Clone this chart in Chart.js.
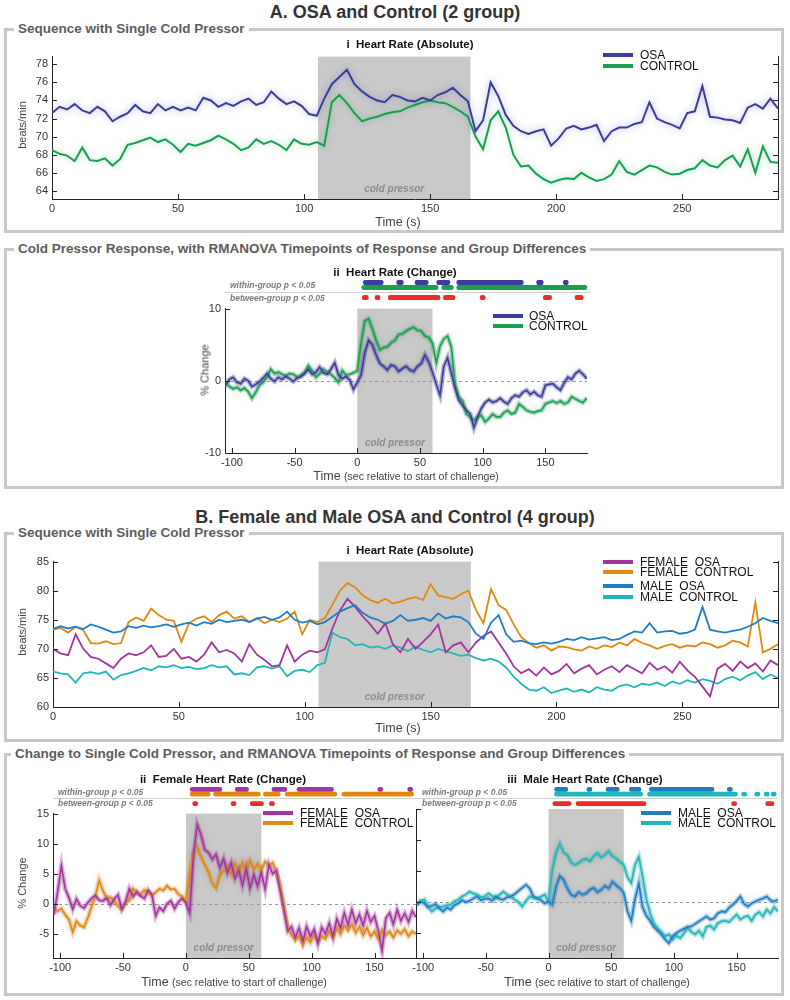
<!DOCTYPE html>
<html lang="en">
<head>
<meta charset="utf-8">
<title>Heart rate response to a single cold pressor</title>
<script src="https://cdn.jsdelivr.net/npm/chart.js@4.4.1/dist/chart.umd.min.js"></script>
<style>
  html, body { margin: 0; background: #fff; }
  #page { position: relative; width: 790px; height: 1000px; overflow: hidden; font-family: "Liberation Sans", Arial, sans-serif; color: #222; }
  #page canvas { position: absolute; }
  .box { position: absolute; left: 4px; width: 780px; border: 3px solid #c8c8c8; box-sizing: border-box; }
  .box-title { position: absolute; top: -10px; left: 7px; padding: 0 4px; background: #fff; font-size: 13.5px; font-weight: bold; color: #5c5c5c; line-height: 16px; white-space: nowrap; }
  .t { position: absolute; white-space: nowrap; line-height: 1; }
  .mid { transform: translate(-50%, -50%); }
  .lft { transform: translateY(-50%); }
  .rot { transform: translate(-50%, -50%) rotate(-90deg); }
  .section { font-size: 18px; font-weight: bold; color: #333; }
  .panel { font-size: 11.5px; font-weight: bold; color: #111; }
  .legend { font-size: 12px; color: #111; }
  .axis-title { font-size: 11px; color: #444; }
  .x-title { font-size: 12.5px; color: #444; }
  .x-title small { font-size: 10.5px; }
  .sig { font-size: 8.5px; font-weight: bold; font-style: italic; color: #7a7a7a; }
  .key { position: absolute; width: 30px; height: 4px; }
  .rule { position: absolute; height: 1px; background: #cfcfcf; }
</style>
</head>
<body>
<div id="page">
  <div class="t mid section" style="left:395px; top:12px">A. OSA and Control (2 group)</div>
  <div class="box" style="top:28px; height:205px"><span class="box-title">Sequence with Single Cold Pressor</span></div>
  <div class="box" style="top:248px; height:241px"><span class="box-title">Cold Pressor Response, with RMANOVA Timepoints of Response and Group Differences</span></div>

  <div class="t mid section" style="left:395px; top:517px">B. Female and Male OSA and Control (4 group)</div>
  <div class="box" style="top:532px; height:210px"><span class="box-title">Sequence with Single Cold Pressor</span></div>
  <div class="box" style="top:753px; height:243px"><span class="box-title" style="left:4px">Change to Single Cold Pressor, and RMANOVA Timepoints of Response and Group Differences</span></div>

  <canvas id="a1-chart"></canvas>
  <canvas id="a2-chart"></canvas>
  <canvas id="a2-sig"></canvas>
  <canvas id="b1-chart"></canvas>
  <canvas id="b2-chart"></canvas>
  <canvas id="b3-chart"></canvas>
  <canvas id="b2-sig"></canvas>
  <canvas id="b3-sig"></canvas>

  <!-- A i -->
  <div class="t mid panel" style="left:410px; top:45px">i&nbsp;&nbsp;Heart Rate (Absolute)</div>
  <div class="key" style="left:603px; top:53px; background:#3b3c9c"></div>
  <div class="t lft legend" style="left:640px; top:55px">OSA</div>
  <div class="key" style="left:603px; top:64px; background:#18a04f"></div>
  <div class="t lft legend" style="left:640px; top:66px">CONTROL</div>
  <div class="t rot axis-title" style="left:22px; top:125px">beats/min</div>
  <div class="t mid x-title" style="left:398px; top:222px">Time (s)</div>

  <!-- A ii -->
  <div class="t mid panel" style="left:395px; top:273px">ii&nbsp;&nbsp;Heart Rate (Change)</div>
  <div class="t lft sig" style="left:230px; top:285px">within-group p &lt; 0.05</div>
  <div class="rule" style="left:225px; top:292px; width:365px"></div>
  <div class="t lft sig" style="left:230px; top:298px">between-group p &lt; 0.05</div>
  <div class="key" style="left:493px; top:314px; background:#3b3c9c"></div>
  <div class="t lft legend" style="left:529px; top:316px">OSA</div>
  <div class="key" style="left:493px; top:324px; background:#18a04f"></div>
  <div class="t lft legend" style="left:529px; top:326px">CONTROL</div>
  <div class="t rot axis-title" style="left:205px; top:370px">% Change</div>
  <div class="t mid x-title" style="left:406px; top:476px">Time <small>(sec relative to start of challenge)</small></div>

  <!-- B i -->
  <div class="t mid panel" style="left:410px; top:551px">i&nbsp;&nbsp;Heart Rate (Absolute)</div>
  <div class="key" style="left:603px; top:560px; background:#a5359e"></div>
  <div class="t lft legend" style="left:640px; top:562px">FEMALE&nbsp;&nbsp;OSA</div>
  <div class="key" style="left:603px; top:570px; background:#e0880f"></div>
  <div class="t lft legend" style="left:640px; top:572px">FEMALE&nbsp;&nbsp;CONTROL</div>
  <div class="key" style="left:603px; top:584px; background:#1e7dc5"></div>
  <div class="t lft legend" style="left:640px; top:586px">MALE&nbsp;&nbsp;OSA</div>
  <div class="key" style="left:603px; top:595px; background:#1fb7b7"></div>
  <div class="t lft legend" style="left:640px; top:597px">MALE&nbsp;&nbsp;CONTROL</div>
  <div class="t rot axis-title" style="left:22px; top:632px">beats/min</div>
  <div class="t mid x-title" style="left:398px; top:728px">Time (s)</div>

  <!-- B ii / iii -->
  <div class="t mid panel" style="left:223px; top:780px">ii&nbsp;&nbsp;Female Heart Rate (Change)</div>
  <div class="t mid panel" style="left:585px; top:780px">iii&nbsp;&nbsp;Male Heart Rate (Change)</div>
  <div class="t lft sig" style="left:58px; top:792px">within-group p &lt; 0.05</div>
  <div class="t lft sig" style="left:58px; top:803px">between-group p &lt; 0.05</div>
  <div class="t lft sig" style="left:422px; top:792px">within-group p &lt; 0.05</div>
  <div class="t lft sig" style="left:422px; top:803px">between-group p &lt; 0.05</div>
  <div class="rule" style="left:53px; top:798px; width:725px"></div>
  <div class="key" style="left:263px; top:811px; background:#a5359e"></div>
  <div class="t lft legend" style="left:300px; top:813px">FEMALE&nbsp;&nbsp;OSA</div>
  <div class="key" style="left:263px; top:821px; background:#e0880f"></div>
  <div class="t lft legend" style="left:300px; top:823px">FEMALE&nbsp;&nbsp;CONTROL</div>
  <div class="key" style="left:641px; top:811px; background:#1e7dc5"></div>
  <div class="t lft legend" style="left:678px; top:813px">MALE&nbsp;&nbsp;OSA</div>
  <div class="key" style="left:641px; top:821px; background:#1fb7b7"></div>
  <div class="t lft legend" style="left:678px; top:823px">MALE&nbsp;&nbsp;CONTROL</div>
  <div class="t rot axis-title" style="left:22px; top:883px">% Change</div>
  <div class="t mid x-title" style="left:234px; top:982px">Time <small>(sec relative to start of challenge)</small></div>
  <div class="t mid x-title" style="left:597px; top:982px">Time <small>(sec relative to start of challenge)</small></div>
</div>

<script>
const FONT = '"Liberation Sans", Arial, sans-serif';
const TICK_FONT = { family: FONT, size: 11 };
const AXIS_W = 40;
const AXIS_H = 22;
const PAD = 6;
const SHADE_COLOR = "#c9c9c9";

const OSA_COLOR = "#3b3c9c";
const CONTROL_COLOR = "#18a04f";
const FEMALE_OSA_COLOR = "#a5359e";
const FEMALE_CONTROL_COLOR = "#e0880f";
const MALE_OSA_COLOR = "#1e7dc5";
const MALE_CONTROL_COLOR = "#1fb7b7";
const SIG_COLOR = "#ef2a2a";

// sample times (s)
const TIME_ABS = [
  0, 3, 6, 9, 12, 15, 18, 21, 24, 27,
  30, 33, 36, 39, 42, 45, 48, 51, 54, 57,
  60, 63, 66, 69, 72, 75, 78, 81, 84, 87,
  90, 93, 96, 99, 102, 105, 108, 111, 114, 117,
  120, 123, 126, 129, 132, 135, 138, 141, 144, 147,
  150, 153, 156, 159, 162, 165, 168, 171, 174, 177,
  180, 183, 186, 189, 192, 195, 198, 201, 204, 207,
  210, 213, 216, 219, 222, 225, 228, 231, 234, 237,
  240, 243, 246, 249, 252, 255, 258, 261, 264, 267,
  270, 273, 276, 279, 282, 285, 288,
];
const TIME_CHG = [
  -105, -102, -99, -96, -93, -90, -87, -84, -81, -78,
  -75, -72, -69, -66, -63, -60, -57, -54, -51, -48,
  -45, -42, -39, -36, -33, -30, -27, -24, -21, -18,
  -15, -12, -9, -6, -3, 0, 3, 6, 9, 12,
  15, 18, 21, 24, 27, 30, 33, 36, 39, 42,
  45, 48, 51, 54, 57, 60, 63, 66, 69, 72,
  75, 78, 81, 84, 87, 90, 93, 96, 99, 102,
  105, 108, 111, 114, 117, 120, 123, 126, 129, 132,
  135, 138, 141, 144, 147, 150, 153, 156, 159, 162,
  165, 168, 171, 174, 177, 180, 183,
];

const ABS_X_TICKS = [0, 50, 100, 150, 200, 250];
const CHG_X_TICKS = [-100, -50, 0, 50, 100, 150];
const A1_Y_TICKS = [64, 66, 68, 70, 72, 74, 76, 78];
const A2_Y_TICKS = [-10, 0, 10];
const B1_Y_TICKS = [60, 65, 70, 75, 80, 85];
const B2_Y_TICKS = [-5, 0, 5, 10, 15];
const ABS_SHADE = [105.5, 166];
const CHG_SHADE = [0, 60];

// A i: heart rate, beats/min
const A1_OSA = [
  72.6, 73.3, 73.0, 73.6, 72.9, 72.6, 73.3, 72.8, 71.7, 72.2,
  72.6, 73.5, 72.8, 72.6, 73.6, 72.9, 73.3, 72.9, 73.2, 72.9,
  74.3, 74.0, 73.3, 73.7, 73.4, 73.9, 74.2, 73.5, 73.8, 75.0,
  74.2, 73.6, 73.9, 73.4, 72.5, 72.3, 74.2, 75.8, 76.6, 77.4,
  75.8, 75.0, 74.4, 74.0, 73.8, 74.6, 74.4, 74.0, 73.9, 74.3,
  74.0, 74.6, 74.9, 75.4, 74.6, 73.9, 70.6, 71.8, 76.0, 74.5,
  72.4, 71.2, 70.6, 70.3, 70.6, 70.8, 69.0, 69.8, 70.9, 71.2,
  70.8, 71.0, 71.3, 69.5, 70.6, 71.0, 71.0, 71.4, 71.6, 73.8,
  72.0, 71.6, 71.3, 70.9, 72.6, 72.8, 75.6, 72.2, 72.1, 71.9,
  71.8, 71.5, 73.2, 73.6, 73.1, 74.2, 73.1,
];
const A1_CONTROL = [
  68.5, 68.1, 67.9, 67.3, 68.8, 67.4, 67.3, 67.6, 66.8, 67.5,
  69.1, 69.3, 69.6, 69.9, 69.4, 69.7, 69.1, 68.3, 69.2, 69.0,
  69.3, 69.6, 70.1, 69.7, 69.2, 68.5, 68.8, 69.7, 69.2, 69.5,
  69.1, 68.5, 69.7, 69.2, 69.1, 69.4, 69.0, 73.8, 74.6, 73.7,
  72.6, 71.7, 72.0, 72.2, 72.5, 72.7, 72.8, 73.2, 73.5, 73.8,
  74.0, 73.8, 73.7, 73.3, 72.8, 72.2, 70.0, 68.6, 71.8, 72.8,
  71.0, 68.0, 66.7, 66.8, 65.9, 65.3, 64.9, 65.2, 65.4, 65.3,
  66.0, 65.5, 65.1, 65.3, 65.8, 67.3, 66.1, 65.8, 66.3, 66.8,
  66.6, 66.1, 65.8, 65.9, 66.3, 66.5, 67.4, 66.8, 66.6, 67.4,
  67.9, 66.7, 68.6, 66.0, 68.9, 67.2, 67.1,
];

// A ii: % change
const A2_OSA = [
  -0.6, 0.2, 0.5, -0.2, -0.4, 0.3, 0.0, -0.8, -0.5, -0.1,
  0.4, 1.0, 0.3, -0.1, 0.5, 0.2, 0.6, 0.3, -0.1, 0.4,
  0.6, 1.0, 1.6, 0.9, 1.2, 1.9, 1.1, 0.9, 1.6, 2.5,
  0.8, 0.3, 0.6, 0.1, -1.2, -0.2, 0.8, 3.9, 5.6, 5.0,
  3.6, 2.4, 2.0, 1.5, 2.2, 2.0, 1.3, 1.7, 2.0, 1.5,
  1.3, 2.0, 2.4, 3.6, 2.6, 1.2, -0.5, -2.0, 2.0, 3.2,
  1.0, -1.0, -2.7, -3.4, -4.1, -4.6, -6.5, -5.0, -3.8, -3.0,
  -2.6, -3.0, -2.8, -2.4, -2.9, -3.2, -2.4, -2.0, -2.2, -1.6,
  -1.3, -1.9, -1.5, -2.0, -2.2, -0.6, -0.5, -0.4, -0.9, -1.3,
  -0.3, 0.5, 0.2, 1.0, 1.4, 0.9, 0.3,
];
const A2_CONTROL = [
  -0.4, -0.8, -1.1, -0.9, -1.3, -1.0, -1.5, -2.4, -1.6, -0.6,
  -0.2, 0.5, 1.6, 1.0, 1.2, 0.9, 0.7, 1.0, 0.9, 0.5,
  0.7, 1.2, 2.1, 1.4, 0.5, 1.0, 1.6, 1.2, 0.9, 0.4,
  -0.2, 1.4, 0.8, 0.9, 1.1, 1.4, 5.2, 8.3, 8.6, 7.2,
  5.6, 4.3, 4.6, 4.7, 5.3, 5.6, 6.4, 6.5, 6.9, 7.2,
  7.4, 7.0, 6.9, 6.2, 6.0, 5.2, 2.5, 4.8, 5.8, 6.2,
  4.7, -0.5, -2.2, -2.8, -4.6, -5.0, -5.5, -5.0, -4.8, -5.7,
  -5.2, -4.6, -5.0, -5.0, -4.4, -4.1, -4.6, -4.4, -3.2, -3.6,
  -4.1, -4.3, -4.4, -4.2, -4.1, -3.2, -3.0, -2.8, -3.1, -2.8,
  -3.2, -3.0, -2.2, -2.5, -2.8, -3.0, -2.4,
];

// A ii: runs of significant timepoints (s)
const A2_SIG_OSA = [[4.8, 20.7], [31.4, 36.7], [46, 56.6], [63.3, 73.9], [79.3, 132.4], [143, 148.3], [164.3, 168.3]];
const A2_SIG_CONTROL = [[3.5, 64.5], [67.3, 76.6], [79.3, 183]];
const A2_SIG_BETWEEN = [[4, 8.8], [14.1, 18.1], [24.7, 66], [68.6, 77.9], [98, 102], [148.3, 155], [173.6, 180.2]];

// B i: heart rate, beats/min
const B1_FEMALE_OSA = [
  70.0, 69.2, 68.9, 72.5, 70.0, 68.6, 68.3, 67.5, 66.7, 68.3,
  69.2, 68.9, 69.4, 70.6, 68.6, 68.8, 70.0, 68.3, 68.6, 67.8,
  69.0, 71.1, 69.4, 69.8, 69.2, 67.8, 70.8, 69.0, 68.1, 67.0,
  67.2, 70.6, 67.8, 69.0, 69.7, 69.4, 69.9, 73.5, 76.6, 78.6,
  77.2, 75.6, 74.2, 72.6, 74.4, 70.8, 69.4, 71.7, 70.0, 71.2,
  72.5, 74.2, 69.4, 70.6, 71.1, 69.4, 71.1, 72.2, 73.0, 71.1,
  69.2, 67.0, 65.8, 66.5, 65.4, 66.8, 65.6, 66.2, 67.4, 65.8,
  66.6, 67.2, 65.6, 66.4, 67.0, 66.0, 67.2, 66.5, 65.8, 67.6,
  66.4, 67.0, 65.9, 67.8, 66.3, 65.2, 63.5, 61.8, 66.6, 67.4,
  66.2, 67.8, 66.7, 67.5, 66.1, 68.0, 67.2,
];
const B1_FEMALE_CONTROL = [
  73.3, 73.6, 72.8, 73.8, 73.2, 71.0, 70.9, 71.3, 70.8, 71.0,
  74.6, 75.4, 74.8, 76.9, 75.8, 75.0, 74.8, 71.2, 74.4, 75.2,
  75.6, 74.6, 75.8, 76.4, 75.2, 75.6, 74.6, 75.3, 74.4, 75.0,
  74.6, 75.2, 76.4, 72.5, 75.0, 74.6, 75.3, 77.6, 80.0, 81.3,
  80.6, 79.2, 78.4, 77.9, 78.6, 77.8, 78.1, 78.6, 78.9, 78.4,
  81.1, 79.2, 78.9, 78.6, 79.4, 80.0, 76.7, 74.4, 80.3, 77.5,
  76.7, 74.2, 72.0, 71.0, 70.2, 70.6, 69.7, 70.4, 70.3, 69.9,
  69.7, 70.4, 70.0, 70.6, 70.3, 71.1, 70.6, 71.7, 71.0, 70.6,
  70.0, 70.5, 70.8, 70.2, 70.6, 70.4, 71.1, 70.8, 70.2, 70.6,
  71.4, 71.1, 70.4, 78.0, 69.4, 70.0, 70.8,
];
const B1_MALE_OSA = [
  73.4, 73.9, 73.5, 73.8, 73.4, 74.2, 73.8, 73.3, 72.8, 73.0,
  73.9, 73.6, 74.0, 73.7, 73.9, 74.2, 73.8, 74.2, 74.5, 74.0,
  74.6, 74.3, 75.0, 74.6, 74.8, 75.0, 74.6, 75.2, 75.5, 75.0,
  75.4, 76.4, 75.0, 74.5, 74.8, 74.2, 74.6, 75.5, 76.4, 77.0,
  77.5, 76.2, 75.4, 75.0, 74.3, 74.8, 75.8, 74.8, 75.0, 75.3,
  74.8, 76.1, 75.2, 75.6, 75.4, 74.6, 72.6, 71.7, 74.5, 75.8,
  72.5, 71.2, 71.4, 71.0, 70.8, 71.1, 70.9, 71.2, 71.7, 71.5,
  72.0, 71.6, 71.8, 72.0, 71.5, 71.7, 72.4, 73.0, 72.8, 74.4,
  72.8, 73.0, 73.1, 72.6, 72.8, 73.3, 77.2, 73.3, 73.0, 72.8,
  73.1, 73.3, 73.8, 74.4, 75.3, 74.8, 74.4,
];
const B1_MALE_CONTROL = [
  66.1, 65.8, 65.6, 64.2, 65.8, 66.0, 65.7, 66.1, 64.7, 65.5,
  65.8, 66.2, 66.7, 66.3, 67.0, 66.8, 67.2, 66.7, 66.9, 66.5,
  66.7, 67.2, 66.8, 67.0, 65.6, 65.8, 65.5, 66.8, 67.0, 66.6,
  67.0, 65.3, 66.2, 66.4, 66.0, 67.2, 67.6, 72.8, 72.0, 71.7,
  70.6, 70.8, 70.2, 70.4, 70.0, 70.6, 70.2, 69.6, 70.4, 69.8,
  69.4, 70.0, 69.6, 69.2, 68.8, 69.0, 68.4, 68.0, 68.3, 67.8,
  66.8, 65.2, 64.0, 63.0, 62.8, 63.4, 62.4, 62.8, 63.2, 62.6,
  63.0, 62.5, 63.4, 63.0, 62.8, 63.6, 63.9, 63.4, 64.0, 63.8,
  64.2, 63.6, 64.4, 64.0, 64.6, 64.2, 64.8, 64.5, 64.0, 64.8,
  65.2, 64.6, 65.4, 66.0, 64.8, 65.6, 65.0,
];

// B ii: female, % change
const B2_FEMALE_OSA = [
  -1.8, 2.0, 6.3, 2.5, 1.0, -0.9, 0.8, -0.3, -0.7, 0.2,
  0.9, 1.4, 0.6, 0.5, 1.0, -0.2, 0.8, 1.5, -0.9, 0.3,
  2.5, 1.2, 2.0, 1.3, 0.9, 2.3, 1.5, -2.0, -0.6, -1.2,
  0.0, 0.5, -0.8, 0.3, 0.9, 0.2, -1.5, 8.0, 13.2, 11.5,
  9.0, 8.5, 7.4, 8.2, 6.0, 7.5, 5.2, 6.8, 4.2, 5.6,
  3.1, 5.8, 2.6, 4.8, 3.0, 5.2, 2.4, 6.5, 5.0, 5.5,
  2.2, -1.0, -4.5, -3.8, -5.6, -4.0, -6.2, -3.8, -5.4, -4.2,
  -6.6, -3.9, -5.0, -3.2, -5.5, -2.5, -4.0, -1.5, -3.5, -1.0,
  -3.2, -1.8, -3.6, -1.2, -3.0, -2.0, -4.5, -7.8, -2.4, -1.5,
  -3.4, -1.0, -2.8, -1.6, -3.0, -1.2, -2.2,
];
const B2_FEMALE_CONTROL = [
  -0.9, -1.2, -0.8, -1.8, -2.6, -4.7, -2.9, -3.6, -3.9, -2.3,
  -0.5, 1.2, 3.9, 2.2, 0.9, 1.1, 0.4, -0.4, -0.9, 0.2,
  0.6, 2.5, 1.8, 1.5, 2.3, 1.8, 1.4, 1.9, 2.5, 2.2,
  3.0, 2.4, 2.5, 1.6, 1.2, 0.4, 5.2, 8.6, 9.5, 7.8,
  6.5, 5.3, 3.4, 2.6, 4.8, 5.6, 6.3, 5.0, 6.6, 5.2,
  6.8, 5.4, 7.2, 5.8, 6.6, 5.6, 7.0, 6.4, 6.8, 5.2,
  3.0, -0.5, -3.8, -5.2, -6.0, -5.4, -6.8, -5.6, -6.4, -5.0,
  -6.2, -5.4, -5.8, -4.6, -5.6, -4.0, -5.0, -3.6, -4.4, -3.4,
  -4.8, -3.8, -5.2, -4.0, -5.4, -4.6, -5.8, -4.4, -5.2, -4.6,
  -5.6, -4.4, -5.0, -4.2, -5.4, -4.6, -5.0,
];

// B iii: male, % change
const B3_MALE_OSA = [
  -0.4, 0.1, -0.2, -0.8, -0.6, -0.3, -1.0, -1.5, -0.9, -1.2,
  -0.5, -0.2, 0.3, 0.0, 0.2, 0.6, 0.9, 0.3, 0.5, 0.6,
  0.2, 0.9, 0.5, 0.4, 0.8, 0.9, 1.3, 1.8, 2.3, 2.8,
  2.2, 0.9, 0.6, 0.3, -0.2, 0.1, -0.4, 2.5, 4.2, 3.6,
  2.2, 1.2, 0.9, 1.6, 1.2, 1.4, 2.0, 2.3, 1.6, 2.0,
  2.6, 2.2, 3.3, 2.7, 2.2, 1.5, -1.5, -3.0, 0.5, 3.0,
  -0.8, -2.2, -3.0, -4.0, -4.6, -5.2, -6.0, -6.6, -5.5, -5.0,
  -4.6, -4.3, -4.0, -3.9, -3.5, -3.1, -2.7, -2.3, -2.8, -2.6,
  -1.8, -1.5, -1.6, -0.9, -0.4, 0.2, 0.9, -0.3, -0.7, -0.2,
  0.1, 0.4, 0.6, 0.9, 0.3, 0.1, 0.4,
];
const B3_MALE_CONTROL = [
  -0.4, 0.2, 0.4, -0.8, -1.5, -1.0, -0.8, -0.7, -0.5, -0.4,
  0.1, 0.4, 0.9, 1.2, 1.7, 1.4, 1.2, 0.8, 0.9, 1.4,
  1.0, 0.6, 1.2, 1.7, 1.2, 0.9, 0.4, 0.0, -0.7, 0.2,
  0.9, 0.7, 0.6, 0.9, 1.2, 0.1, 5.2, 8.0, 9.4, 8.0,
  7.6, 6.4, 6.0, 6.3, 6.8, 7.0, 6.6, 7.4, 7.9, 7.2,
  7.6, 8.2, 7.4, 7.0, 6.5, 6.0, 4.0, 3.1, 6.0, 7.3,
  4.1, 0.5, -1.8, -3.4, -4.2, -4.8, -5.5, -5.2, -6.0, -5.4,
  -5.8, -5.0, -4.2, -4.8, -5.2, -4.6, -5.5, -4.0, -3.8, -4.4,
  -3.4, -3.1, -3.0, -3.2, -2.6, -2.0, -2.8, -2.4, -2.2, -3.0,
  -2.0, -1.6, -2.3, -1.2, -1.8, -0.8, -1.5,
];

const B2_SIG_FEMALE_OSA = [[3.4, 28.6], [39.2, 49.8], [68.4, 80.3], [88.3, 117.4], [152.6, 156.6], [176.4, 180.4]];
const B2_SIG_FEMALE_CONTROL = [[3.4, 19.3], [22, 59.1], [61.7, 75], [79, 120], [124.1, 181]];
const B2_SIG_BETWEEN = [[5.4, 9.4], [35.9, 39.9], [51.2, 61.7], [66.4, 70.4]];
const B3_SIG_MALE_OSA = [[4.8, 15.4], [30.6, 34.6], [45.9, 56.5], [64.4, 73.7], [80.4, 132], [142.6, 146.6]];
const B3_SIG_MALE_CONTROL = [[4.8, 75], [79, 150.6], [154, 158], [164.5, 168.5], [172, 176], [177.5, 181.5]];
const B3_SIG_BETWEEN = [[3.4, 18], [22, 77.7], [146, 150], [173.2, 179.8]];

const SIG_ROWS = ["within-osa", "within-control", "rule", "between"];

function alpha(hex, a) {
  const n = parseInt(hex.slice(1), 16);
  return `rgba(${(n >> 16) & 255}, ${(n >> 8) & 255}, ${n & 255}, ${a})`;
}

function lineDataset(times, values, color, width, order, glow) {
  return {
    data: times.map((t, i) => ({ x: t, y: values[i] })),
    borderColor: color,
    borderWidth: width,
    pointRadius: 0,
    tension: 0,
    fill: false,
    order,
    glow,
  };
}

// thin mean line over a paler, wider trace standing in for the error band
function changeSeries(values, color) {
  return [
    lineDataset(TIME_CHG, values, color, 1.6, 0, null),
    lineDataset(TIME_CHG, values, alpha(color, 0.38), 4.5, 1, "rgba(0, 0, 0, 0.22)"),
  ];
}

const glowPlugin = {
  id: "glow",
  beforeDatasetDraw(chart, args) {
    const dataset = chart.data.datasets[args.index];
    chart.ctx.save();
    if (dataset.glow) {
      chart.ctx.shadowColor = dataset.glow;
      chart.ctx.shadowBlur = 7;
    }
  },
  afterDatasetDraw(chart) {
    chart.ctx.restore();
  },
};

const shadePlugin = {
  id: "shade",
  beforeDraw(chart, args, opts) {
    const { ctx, chartArea: area, scales } = chart;
    const x0 = scales.x.getPixelForValue(opts.from);
    const x1 = scales.x.getPixelForValue(opts.to);
    ctx.save();
    ctx.fillStyle = SHADE_COLOR;
    ctx.fillRect(x0, area.top, x1 - x0, area.bottom - area.top);
    ctx.fillStyle = "#8d8d8d";
    ctx.font = `italic bold 10px ${FONT}`;
    ctx.textAlign = "center";
    ctx.textBaseline = "middle";
    ctx.fillText("cold pressor", (x0 + x1) / 2, area.bottom - 10);
    if (opts.zeroLine) {
      const y0 = Math.round(scales.y.getPixelForValue(0)) + 0.5;
      ctx.strokeStyle = "#9a9a9a";
      ctx.lineWidth = 1;
      ctx.setLineDash([3, 3]);
      ctx.beginPath();
      ctx.moveTo(area.left, y0);
      ctx.lineTo(area.right, y0);
      ctx.stroke();
    }
    ctx.restore();
  },
};

// MATLAB style tick marks pointing into the plot
const inwardTicks = {
  id: "inwardTicks",
  afterDraw(chart) {
    const { ctx, chartArea: area } = chart;
    ctx.save();
    ctx.strokeStyle = "#222";
    ctx.lineWidth = 1;
    ctx.beginPath();
    Object.values(chart.scales).forEach((scale) => {
      scale.ticks.forEach((tick) => {
        const p = Math.round(scale.getPixelForValue(tick.value)) + 0.5;
        if (scale.axis === "x") {
          ctx.moveTo(p, area.bottom);
          ctx.lineTo(p, area.bottom - 5);
        } else if (scale.position === "left") {
          ctx.moveTo(area.left, p);
          ctx.lineTo(area.left + 5, p);
        } else {
          ctx.moveTo(area.right, p);
          ctx.lineTo(area.right - 5, p);
        }
      });
    });
    ctx.stroke();
    ctx.restore();
  },
};

function fixedTicks(values) {
  return (scale) => {
    scale.ticks = values.map((value) => ({ value }));
  };
}

function buildChart(canvasId, area, setup) {
  const canvas = document.getElementById(canvasId);
  const left = area.left - AXIS_W;
  const top = area.top - PAD;
  canvas.width = area.right + PAD - left;
  canvas.height = area.bottom + AXIS_H - top;
  canvas.style.left = `${left}px`;
  canvas.style.top = `${top}px`;

  const scales = {
    x: {
      type: "linear",
      min: setup.xMin,
      max: setup.xMax,
      afterBuildTicks: fixedTicks(setup.xTicks),
      afterFit: (scale) => { scale.height = AXIS_H; },
      grid: { display: false, drawTicks: false },
      border: { display: true, color: "#222" },
      ticks: { font: TICK_FONT, color: "#333", padding: 3, maxRotation: 0, autoSkip: false },
    },
    y: {
      type: "linear",
      position: "left",
      min: setup.yMin,
      max: setup.yMax,
      afterBuildTicks: fixedTicks(setup.yTicks),
      afterFit: (scale) => { scale.width = AXIS_W; },
      grid: { display: false, drawTicks: false },
      border: { display: true, color: "#222" },
      ticks: { display: setup.yLabels !== false, font: TICK_FONT, color: "#333", padding: 4 },
    },
  };
  if (setup.rightAxis) {
    scales.y2 = {
      type: "linear",
      position: "right",
      min: setup.yMin,
      max: setup.yMax,
      afterBuildTicks: fixedTicks(setup.yTicks),
      afterFit: (scale) => { scale.width = 0; },
      grid: { display: false, drawTicks: false },
      border: { display: true, color: "#222" },
      ticks: { display: false },
    };
  }

  return new Chart(canvas, {
    type: "line",
    data: { datasets: setup.datasets },
    options: {
      responsive: false,
      animation: false,
      events: [],
      layout: { padding: { top: PAD, right: PAD, bottom: 0, left: 0 } },
      plugins: {
        legend: { display: false },
        tooltip: { enabled: false },
        shade: { from: setup.shade[0], to: setup.shade[1], zeroLine: !!setup.zeroLine },
      },
      scales,
    },
    plugins: [shadePlugin, glowPlugin, inwardTicks],
  });
}

function buildStrip(canvasId, area, top, height, xMin, xMax, rows, thickness) {
  const canvas = document.getElementById(canvasId);
  canvas.width = area.right - area.left;
  canvas.height = height;
  canvas.style.left = `${area.left}px`;
  canvas.style.top = `${top}px`;

  return new Chart(canvas, {
    type: "bar",
    data: {
      labels: SIG_ROWS,
      datasets: rows.map((row) => ({
        data: row.runs.map((run) => ({ x: run, y: row.key })),
        backgroundColor: row.color,
        grouped: false,
        barThickness: thickness,
        borderRadius: thickness / 2,
        borderSkipped: false,
      })),
    },
    options: {
      indexAxis: "y",
      responsive: false,
      animation: false,
      events: [],
      layout: { padding: 0 },
      plugins: { legend: { display: false }, tooltip: { enabled: false } },
      scales: {
        x: { type: "linear", min: xMin, max: xMax, display: false },
        y: { type: "category", display: false },
      },
    },
  });
}

function main() {
  Chart.defaults.font.family = FONT;

  buildChart("a1-chart", { left: 52, top: 52, right: 778, bottom: 199 }, {
    xMin: 0, xMax: 288, xTicks: ABS_X_TICKS,
    yMin: 63.1, yMax: 78.85, yTicks: A1_Y_TICKS,
    rightAxis: true,
    shade: ABS_SHADE,
    datasets: [
      lineDataset(TIME_ABS, A1_OSA, OSA_COLOR, 2, 0, alpha(OSA_COLOR, 0.45)),
      lineDataset(TIME_ABS, A1_CONTROL, CONTROL_COLOR, 2, 0, alpha(CONTROL_COLOR, 0.4)),
    ],
  });

  const a2Area = { left: 225, top: 304, right: 587, bottom: 453 };
  buildChart("a2-chart", a2Area, {
    xMin: -105.5, xMax: 183.2, xTicks: CHG_X_TICKS,
    yMin: -10, yMax: 10, yTicks: A2_Y_TICKS,
    shade: CHG_SHADE, zeroLine: true,
    datasets: [...changeSeries(A2_OSA, OSA_COLOR), ...changeSeries(A2_CONTROL, CONTROL_COLOR)],
  });
  buildStrip("a2-sig", a2Area, 280, 20, -105.5, 183.2, [
    { key: "within-osa", runs: A2_SIG_OSA, color: OSA_COLOR },
    { key: "within-control", runs: A2_SIG_CONTROL, color: CONTROL_COLOR },
    { key: "between", runs: A2_SIG_BETWEEN, color: SIG_COLOR },
  ], 4.5);

  buildChart("b1-chart", { left: 53, top: 557, right: 778, bottom: 707 }, {
    xMin: 0, xMax: 288, xTicks: ABS_X_TICKS,
    yMin: 60, yMax: 85, yTicks: B1_Y_TICKS,
    rightAxis: true,
    shade: ABS_SHADE,
    datasets: [
      lineDataset(TIME_ABS, B1_MALE_OSA, MALE_OSA_COLOR, 1.8, 0, null),
      lineDataset(TIME_ABS, B1_FEMALE_OSA, FEMALE_OSA_COLOR, 1.8, 0, null),
      lineDataset(TIME_ABS, B1_MALE_CONTROL, MALE_CONTROL_COLOR, 1.8, 0, null),
      lineDataset(TIME_ABS, B1_FEMALE_CONTROL, FEMALE_CONTROL_COLOR, 1.8, 0, null),
    ],
  });

  const b2Area = { left: 53, top: 809, right: 416, bottom: 958 };
  buildChart("b2-chart", b2Area, {
    xMin: -105.7, xMax: 183, xTicks: CHG_X_TICKS,
    yMin: -9, yMax: 15, yTicks: B2_Y_TICKS,
    shade: CHG_SHADE, zeroLine: true,
    datasets: [...changeSeries(B2_FEMALE_OSA, FEMALE_OSA_COLOR), ...changeSeries(B2_FEMALE_CONTROL, FEMALE_CONTROL_COLOR)],
  });
  buildStrip("b2-sig", b2Area, 787, 19, -105.7, 183, [
    { key: "within-osa", runs: B2_SIG_FEMALE_OSA, color: FEMALE_OSA_COLOR },
    { key: "within-control", runs: B2_SIG_FEMALE_CONTROL, color: FEMALE_CONTROL_COLOR },
    { key: "between", runs: B2_SIG_BETWEEN, color: SIG_COLOR },
  ], 4);

  const b3Area = { left: 416, top: 809, right: 778, bottom: 958 };
  buildChart("b3-chart", b3Area, {
    xMin: -105.7, xMax: 183, xTicks: CHG_X_TICKS,
    yMin: -9, yMax: 15, yTicks: B2_Y_TICKS, yLabels: false,
    shade: CHG_SHADE, zeroLine: true,
    datasets: [...changeSeries(B3_MALE_OSA, MALE_OSA_COLOR), ...changeSeries(B3_MALE_CONTROL, MALE_CONTROL_COLOR)],
  });
  buildStrip("b3-sig", b3Area, 787, 19, -105.7, 183, [
    { key: "within-osa", runs: B3_SIG_MALE_OSA, color: MALE_OSA_COLOR },
    { key: "within-control", runs: B3_SIG_MALE_CONTROL, color: MALE_CONTROL_COLOR },
    { key: "between", runs: B3_SIG_BETWEEN, color: SIG_COLOR },
  ], 4);
}

main();
</script>
</body>
</html>
